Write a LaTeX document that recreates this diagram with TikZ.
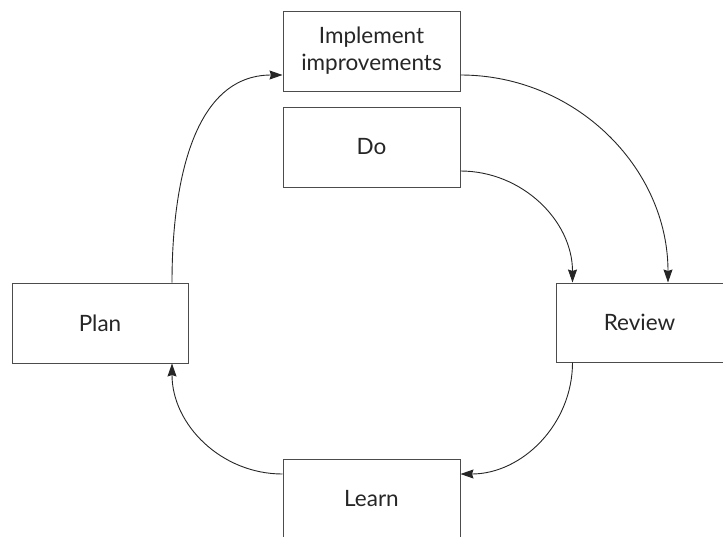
\documentclass[tikz,border=0pt]{standalone}
\usepackage{fontspec}
\setmainfont{Lato}
\usetikzlibrary{arrows.meta}
\tikzstyle{stage} = [draw=black!70, line width=1pt, minimum width=177pt, minimum height=80pt, inner sep=0pt, align=center, font=\fontsize{22.5}{27}\selectfont, text=black!85]
\tikzstyle{flow} = [draw=black!85, line width=0.9pt, -{Stealth[length=13pt,width=9pt,inset=1.5pt]}]

\begin{document}
\begin{tikzpicture}[x=1pt, y=-1pt]
  \useasboundingbox (0,0) rectangle (723,536);

  % The five stages of the cycle
  \node[stage] (impl) at (371.5, 51) {Implement\\improvements};
  \node[stage] (do) at (371.5, 147) {Do};
  \node[stage, minimum width=176pt] (plan) at (100, 323) {Plan};
  \node[stage, minimum width=167pt, minimum height=79pt] (review) at (639.5, 322.5) {Review};
  \node[stage] (learn) at (371.5, 499) {Learn};

  % Connections round the cycle
  \path[flow] ([xshift=72pt]plan.north) to[out=90, in=180] ([yshift=-24pt]impl.west);
  \path[flow] ([yshift=-24pt]impl.east) to[out=0, in=90] ([xshift=28.5pt]review.north);
  \path[flow] ([yshift=-24pt]do.east) to[out=0, in=90] ([xshift=-67pt]review.north);
  \path[flow] ([xshift=-67pt]review.south) to[out=-90, in=0] ([yshift=25pt]learn.east);
  \path[flow] ([yshift=25pt]learn.west) to[out=180, in=-90] ([xshift=72pt]plan.south);

\end{tikzpicture}
\end{document}
